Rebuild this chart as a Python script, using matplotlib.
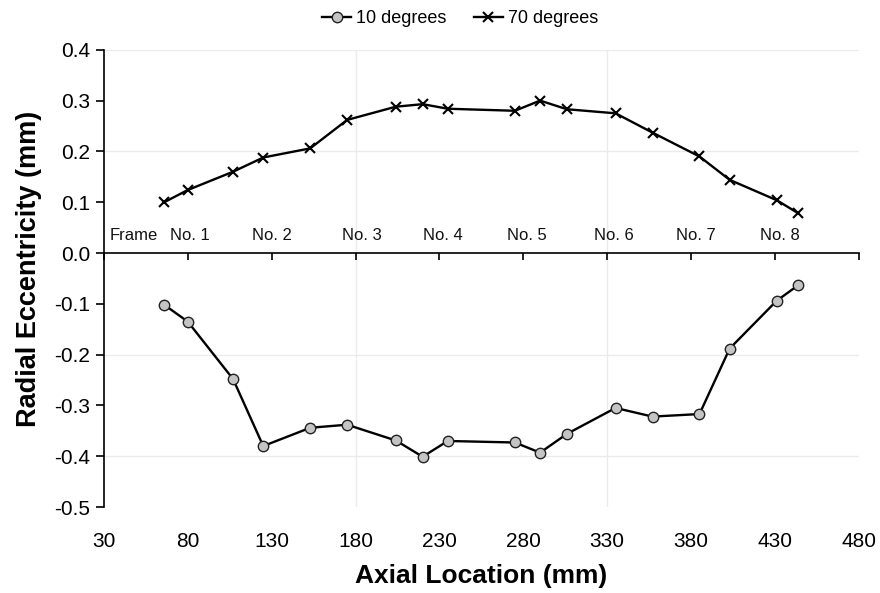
import matplotlib
matplotlib.use("Agg")
import matplotlib.pyplot as plt

plt.rcParams['font.family'] = ['Liberation Sans', 'DejaVu Sans']

# Axial measurement stations (mm)
axial_mm = [66, 80, 107, 125, 153, 175, 204, 220, 235, 275, 290, 306,
            335, 357, 385, 403, 431, 444]

# Radial eccentricity (mm) at each station
ecc_10deg = [-0.102, -0.135, -0.248, -0.380, -0.344, -0.338, -0.369, -0.401,
             -0.370, -0.373, -0.393, -0.356, -0.305, -0.322, -0.317, -0.188,
             -0.094, -0.063]
ecc_70deg = [0.100, 0.124, 0.160, 0.188, 0.206, 0.262, 0.288, 0.293, 0.284,
             0.280, 0.300, 0.283, 0.275, 0.237, 0.190, 0.144, 0.104, 0.078]

# Frame annotations along the axis
frame_labels = ["Frame", "No. 1", "No. 2", "No. 3", "No. 4", "No. 5",
                "No. 6", "No. 7", "No. 8"]
frame_x = [48, 81, 130, 184, 232, 282, 334, 383, 433]

x_ticks = [30, 80, 130, 180, 230, 280, 330, 380, 430, 480]
y_ticks = [0.4, 0.3, 0.2, 0.1, 0.0, -0.1, -0.2, -0.3, -0.4, -0.5]

fig = plt.figure(figsize=(8.8, 5.93), dpi=100)
ax = fig.add_axes([0.118, 0.145, 0.858, 0.771])

# faint grid
for gx in [180, 330]:
    ax.axvline(gx, color='#ebebeb', lw=1.0, zorder=0)
for gy in [0.2, -0.2, 0.4, -0.4]:
    ax.axhline(gy, color='#ebebeb', lw=1.0, zorder=0)

ax.plot(axial_mm, ecc_10deg, color='black', lw=1.7, marker='o',
        markersize=7.5, markerfacecolor='#c4c4c4', markeredgecolor='#222222',
        markeredgewidth=1.0, label='10 degrees', zorder=3)
ax.plot(axial_mm, ecc_70deg, color='black', lw=1.7, marker='x',
        markersize=7, markeredgewidth=1.5, label='70 degrees', zorder=3)

for lab, fx in zip(frame_labels, frame_x):
    ax.text(fx, 0.035, lab, ha='center', va='center', fontsize=12,
            color='#111111')

ax.set_xlim(30, 480)
ax.set_ylim(-0.5, 0.4)

# horizontal axis crosses at zero; labels stay at the bottom
for s in ['top', 'right']:
    ax.spines[s].set_visible(False)
ax.spines['bottom'].set_position(('data', 0))
ax.spines['bottom'].set_linewidth(1.2)
ax.spines['left'].set_linewidth(1.2)
ax.set_xticks(x_ticks)
ax.tick_params(axis='x', direction='out', length=5, width=1.2,
               labelbottom=False)
ax.set_yticks(y_ticks)
ax.set_yticklabels([f"{v:.1f}" for v in y_ticks])
ax.tick_params(axis='y', direction='out', length=6, width=1.2,
               labelsize=15, pad=4)

sec = ax.secondary_xaxis('bottom')
sec.spines['bottom'].set_visible(False)
sec.set_xticks(x_ticks)
sec.set_xticklabels([str(v) for v in x_ticks])
sec.tick_params(length=0, labelsize=15, pad=18)
sec.set_xlabel('Axial Location (mm)', fontsize=19, fontweight='bold',
               labelpad=9)

ax.set_ylabel('Radial Eccentricity (mm)', fontsize=19.5, fontweight='bold')
ax.yaxis.set_label_coords(-0.082, 0.52)

ax.legend(loc='lower center', bbox_to_anchor=(0.472, 1.022), ncol=2,
          frameon=False, fontsize=13, handlelength=1.6, handletextpad=0.3,
          columnspacing=1.5, borderaxespad=0.3)

fig.savefig('out.png', dpi=100, facecolor='white')
